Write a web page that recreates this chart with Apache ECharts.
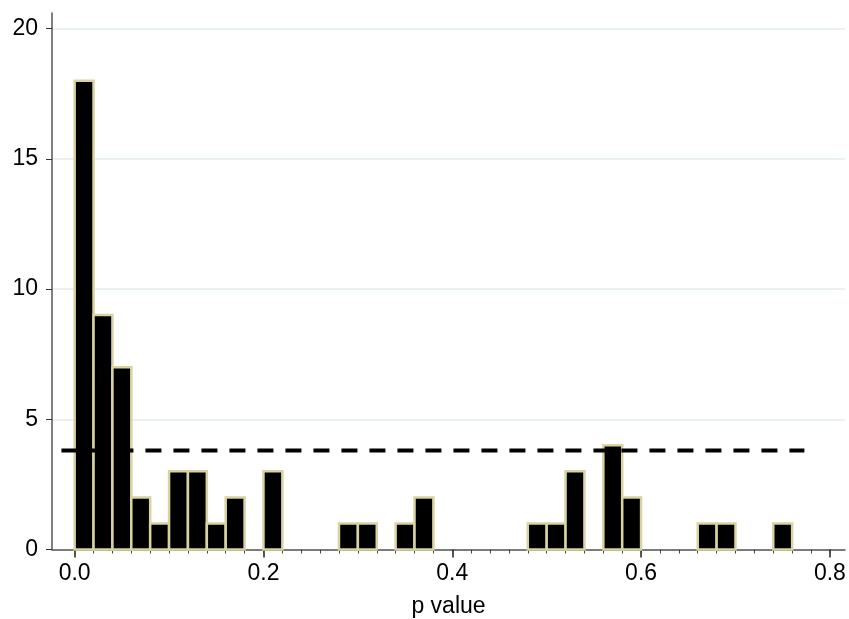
<!DOCTYPE html>
<html>
<head>
    <meta charset="UTF-8">
    <title>p value histogram</title>
    <script src="https://cdn.jsdelivr.net/npm/echarts@6/dist/echarts.min.js"></script>
</head>
<style>
    html, body { margin: 0; padding: 0; background: #fff; }
    #chart { width: 849px; height: 619px; }
</style>
<body>
<div id="chart"></div>
<script>
// histogram bins (width 0.02), only non-empty ones
const binWidth = 0.02;
const binStart = [0.00, 0.02, 0.04, 0.06, 0.08, 0.10, 0.12, 0.14, 0.16, 0.20,
                  0.28, 0.30, 0.34, 0.36, 0.48, 0.50, 0.52, 0.56, 0.58, 0.66, 0.68, 0.74];
const counts   = [18, 9, 7, 2, 1, 3, 3, 1, 2, 3,
                  1, 1, 1, 2, 1, 1, 3, 4, 2, 1, 1, 1];

// dashed reference level
const refLevel = 3.8;
const refFrom = -0.014;
const refTo = 0.773;

// tick labels
const xMajorTicks = [0, 0.2, 0.4, 0.6, 0.8];
const yTicks = [0, 5, 10, 15, 20];

const xMinorTicks = [];
for (let i = 0; i <= 40; i++) xMinorTicks.push(+(i * 0.02).toFixed(2));

const histData = binStart.map((s, i) => [s, +(s + binWidth).toFixed(2), counts[i]]);

const font = 'Liberation Sans, Arial, sans-serif';
const chart = echarts.init(document.getElementById('chart'));

const option = {
    animation: false,
    grid: { left: 52, right: 4, top: 13, bottom: 69.5, outerBoundsMode: 'none', containLabel: false },
    xAxis: [{
        type: 'value',
        min: -0.024,
        max: 0.816,
        name: 'p value',
        nameLocation: 'middle',
        nameGap: 46,
        nameTextStyle: { fontFamily: font, fontSize: 23, color: '#000' },
        axisLine: { show: true, onZero: false, lineStyle: { color: '#555', width: 1.5 } },
        axisTick: { show: true, length: 8, customValues: xMajorTicks, lineStyle: { color: '#222', width: 1.5 } },
        axisLabel: {
            customValues: xMajorTicks,
            formatter: v => v.toFixed(1),
            fontFamily: font, fontSize: 23, color: '#000', margin: 13
        },
        splitLine: { show: false }
    }, {
        type: 'value',
        position: 'bottom',
        min: -0.024,
        max: 0.816,
        axisLine: { show: false, onZero: false },
        axisTick: { show: true, length: 4, customValues: xMinorTicks, lineStyle: { color: '#444', width: 1 } },
        axisLabel: { show: false },
        splitLine: { show: false }
    }],
    yAxis: {
        type: 'value',
        min: 0,
        max: 20.6,
        interval: 5,
        axisLine: { show: true, onZero: false, lineStyle: { color: '#555', width: 1.5 } },
        axisTick: { show: true, length: 6, customValues: yTicks, lineStyle: { color: '#333' } },
        axisLabel: {
            customValues: yTicks,
            fontFamily: font, fontSize: 23, color: '#000', margin: 14
        },
        splitLine: { show: true, lineStyle: { color: '#e9f1f3', width: 2 } }
    },
    series: [{
        type: 'custom',
        xAxisIndex: 0,
        renderItem: function (params, api) {
            const topLeft = api.coord([api.value(0), api.value(2)]);
            const bottomRight = api.coord([api.value(1), 0]);
            return {
                type: 'rect',
                shape: {
                    x: topLeft[0],
                    y: topLeft[1],
                    width: bottomRight[0] - topLeft[0],
                    height: bottomRight[1] - topLeft[1]
                },
                style: { fill: '#000', stroke: '#d8d3a0', lineWidth: 2.5 }
            };
        },
        encode: { x: [0, 1], y: 2 },
        data: histData
    }, {
        type: 'line',
        xAxisIndex: 0,
        symbol: 'none',
        data: [[refFrom, refLevel], [refTo, refLevel]],
        lineStyle: { color: '#000', width: 4, type: [16, 12] },
        z: 5
    }]
};
chart.setOption(option);
</script>
</body>
</html>
